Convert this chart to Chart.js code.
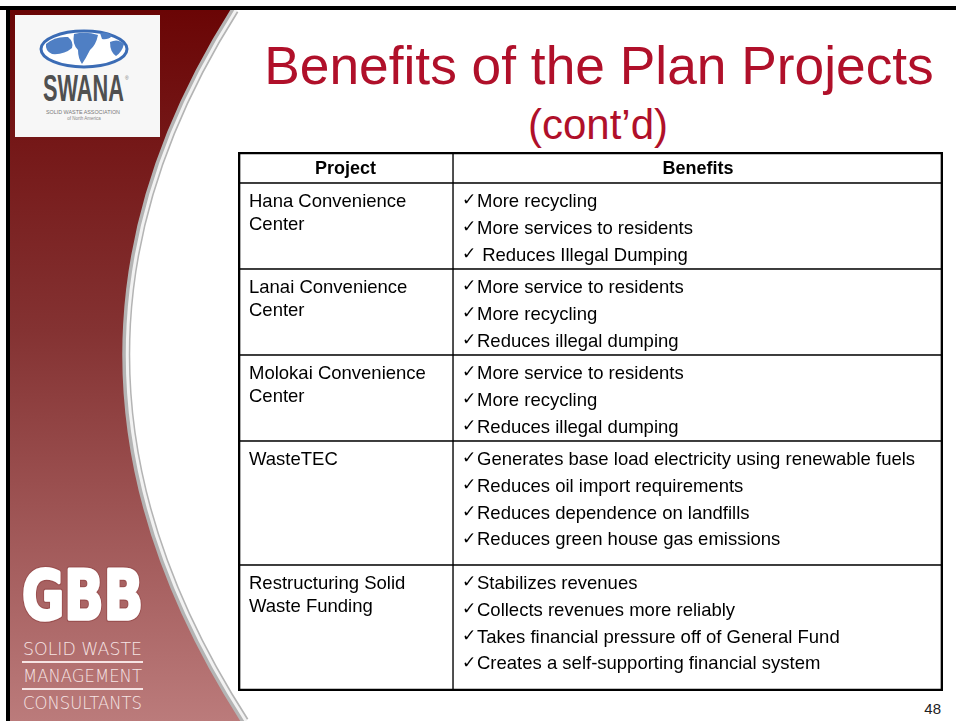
<!DOCTYPE html>
<html>
<head>
<meta charset="utf-8">
<script src="https://cdn.jsdelivr.net/npm/chart.js"></script>
<style>
  html, body { margin: 0; padding: 0; background: #fff; }
  #slide { position: relative; width: 956px; height: 721px; overflow: hidden; }
  #bg { position: absolute; left: 0; top: 0; }
  #tbl { position: absolute; left: 236px; top: 150px; }
</style>
</head>
<body>
<div id="slide">
<svg id="bg" width="956" height="721" xmlns="http://www.w3.org/2000/svg">
  <defs>
    <linearGradient id="maroon" x1="0" y1="0" x2="0" y2="1">
      <stop offset="0" stop-color="#6a0505"/>
      <stop offset="0.45" stop-color="#843232"/>
      <stop offset="1" stop-color="#bb7b7b"/>
    </linearGradient>
  </defs>
  <!-- left band with curved edge -->
  <path d="M 10 10 L 232 10 C 118 190 55 430 242 721 L 10 721 Z" fill="url(#maroon)"/>
  <path d="M 235 10 C 121 190 58 430 245 721" fill="none" stroke="#b4b4b4" stroke-width="8"/>
  <path d="M 236 10 C 122 190 59 430 246 721" fill="none" stroke="#f2f2f2" stroke-width="3"/>
  <!-- black frame top / left -->
  <rect x="0" y="6" width="956" height="4" fill="#000"/>
  <rect x="6" y="6" width="4" height="715" fill="#000"/>

  <!-- SWANA logo -->
  <rect x="15" y="15" width="145" height="122" fill="#f7f7f7"/>
  <ellipse cx="84" cy="49" rx="43" ry="18" fill="#ffffff" stroke="#3b6cb5" stroke-width="3"/>
  <path d="M 46 44 Q 55 36 68 37 Q 74 42 72 48 Q 64 55 52 54 Q 45 51 46 44 Z" fill="#4f7fc4"/>
  <path d="M 74 34 Q 86 31 98 35 Q 96 45 90 50 Q 86 58 82 64 Q 78 58 78 50 Q 72 44 74 34 Z" fill="#4f7fc4"/>
  <path d="M 100 33 Q 108 31 112 36 Q 108 40 102 39 Z" fill="#4f7fc4"/>
  <path d="M 110 42 Q 118 38 124 44 Q 122 52 116 56 Q 110 52 110 42 Z" fill="#4f7fc4"/>
  <text x="43" y="101" font-family="Liberation Sans Narrow, Liberation Sans, Arial" font-weight="bold" font-size="37" fill="#505050" textLength="81" lengthAdjust="spacingAndGlyphs">SWANA</text>
  <text x="125" y="80" font-family="Liberation Sans" font-size="5" fill="#777">®</text>
  <text x="83" y="114" text-anchor="middle" font-family="Liberation Sans" font-size="5.5" fill="#777" textLength="74" lengthAdjust="spacingAndGlyphs">SOLID WASTE ASSOCIATION</text>
  <text x="84" y="120" text-anchor="middle" font-family="Liberation Sans" font-size="4.5" fill="#888">of North America</text>

  <!-- GBB logo -->
  <text x="22" y="619" font-family="DejaVu Sans" font-weight="bold" font-size="68" fill="#9a5050" stroke="#9a5050" stroke-width="6" stroke-linejoin="round" textLength="121" lengthAdjust="spacingAndGlyphs">GBB</text>
  <text x="22" y="619" font-family="DejaVu Sans" font-weight="bold" font-size="68" fill="#ffffff" stroke="#ffffff" stroke-width="3.5" stroke-linejoin="round" textLength="121" lengthAdjust="spacingAndGlyphs">GBB</text>
  <text x="23" y="655" font-family="DejaVu Sans" font-weight="200" font-size="18" fill="#f6e4e4" textLength="119" lengthAdjust="spacingAndGlyphs">SOLID   WASTE</text>
  <rect x="22" y="661" width="121" height="2" fill="#f6e4e4"/>
  <text x="23" y="682" font-family="DejaVu Sans" font-weight="200" font-size="18" fill="#f6e4e4" textLength="119" lengthAdjust="spacingAndGlyphs">MANAGEMENT</text>
  <rect x="22" y="688" width="121" height="2" fill="#f6e4e4"/>
  <text x="23" y="709" font-family="DejaVu Sans" font-weight="200" font-size="18" fill="#f6e4e4" textLength="119" lengthAdjust="spacingAndGlyphs">CONSULTANTS</text>

  <!-- title -->
  <text x="599" y="84" text-anchor="middle" font-family="Liberation Sans, Arial" font-size="53.3" fill="#b0102a">Benefits of the Plan Projects</text>
  <text x="598" y="139" text-anchor="middle" font-family="Liberation Sans, Arial" font-size="42" fill="#b0102a">(cont’d)</text>
  <!-- page number -->
  <text x="941" y="714" text-anchor="end" font-family="Liberation Sans, Arial" font-size="15" fill="#222">48</text>
</svg>
<canvas id="tbl" width="709" height="543"></canvas>
</div>

<script>
// table content
let headers = ['Project', 'Benefits'];
let projects = [
  ['Hana Convenience', 'Center'],
  ['Lanai Convenience', 'Center'],
  ['Molokai Convenience', 'Center'],
  ['WasteTEC'],
  ['Restructuring Solid', 'Waste Funding']
];
let benefits = [
  ['✓More recycling', '✓More services to residents', '✓ Reduces Illegal Dumping'],
  ['✓More service to residents', '✓More recycling', '✓Reduces illegal dumping'],
  ['✓More service to residents', '✓More recycling', '✓Reduces illegal dumping'],
  ['✓Generates base load electricity using renewable fuels', '✓Reduces oil import requirements',
   '✓Reduces dependence on landfills', '✓Reduces green house gas emissions'],
  ['✓Stabilizes revenues', '✓Collects revenues more reliably',
   '✓Takes financial pressure off of General Fund', '✓Creates a self-supporting financial system']
];

// layout of the table (px), header row first
let colWidths = [215, 490];
let rowHeights = [31, 86, 86, 86, 124, 126];

let tableWidth = colWidths[0] + colWidths[1];
let tableHeight = rowHeights.reduce((a, b) => a + b, 0);

// row edges -> floating bar ranges
let rowRanges = [];
let acc = 0;
for (let h of rowHeights) {
  rowRanges.push([acc, acc + h]);
  acc += h;
}
let colCenters = [colWidths[0] / 2, colWidths[0] + colWidths[1] / 2];

let textFont = '"Liberation Sans", Arial, sans-serif';

// draws the text of every cell on top of the bars
const tableText = {
  id: 'tableText',
  afterDatasetsDraw(chart) {
    let ctx = chart.ctx;
    let projCells = chart.getDatasetMeta(0).data;
    let benCells = chart.getDatasetMeta(1).data;
    ctx.save();
    ctx.fillStyle = '#000';
    ctx.textBaseline = 'middle';
    for (let i = 0; i < projCells.length; i++) {
      let p = projCells[i].getProps(['x', 'y', 'base', 'width'], true);
      let b = benCells[i].getProps(['x', 'y', 'base', 'width'], true);
      let top = Math.min(p.y, p.base);
      if (i === 0) {
        ctx.font = 'bold 18px ' + textFont;
        ctx.textAlign = 'center';
        ctx.fillText(headers[0], p.x, top + 17);
        ctx.fillText(headers[1], b.x, top + 17);
        continue;
      }
      ctx.textAlign = 'left';
      ctx.font = '18.5px ' + textFont;
      let pl = p.x - p.width / 2;
      projects[i - 1].forEach((line, k) => {
        ctx.fillText(line, pl + 11, top + 19 + k * 22.5);
      });
      let bl = b.x - b.width / 2;
      let step = benefits[i - 1].length > 3 ? 26.8 : 27;
      benefits[i - 1].forEach((line, k) => {
        let y = top + 19 + k * step;
        let txt = line;
        if (txt.startsWith('✓')) {
          ctx.font = '17px "DejaVu Sans"';
          ctx.fillText('✓', bl + 9, y - 1);
          txt = txt.slice(1);
        }
        ctx.font = '18.5px ' + textFont;
        ctx.fillText(txt, bl + 24, y);
      });
    }
    ctx.restore();
  }
};

let ctx = document.getElementById('tbl').getContext('2d');
let mychart = new Chart(ctx, {
  type: 'bar',
  data: {
    datasets: [
      {
        label: headers[0],
        data: rowRanges.map(r => ({ x: colCenters[0], y: r })),
        barThickness: colWidths[0],
        stack: 'table',
        backgroundColor: '#ffffff',
        borderColor: '#000000',
        borderWidth: 1,
        borderSkipped: false
      },
      {
        label: headers[1],
        data: rowRanges.map(r => ({ x: colCenters[1], y: r })),
        barThickness: colWidths[1],
        stack: 'table',
        backgroundColor: '#ffffff',
        borderColor: '#000000',
        borderWidth: 1,
        borderSkipped: false
      },
      {
        // outer frame of the table, drawn on top of the cells
        label: 'frame',
        order: -1,
        data: [{ x: tableWidth / 2, y: [0, tableHeight] }],
        barThickness: tableWidth,
        stack: 'table',
        backgroundColor: 'rgba(0,0,0,0)',
        borderColor: '#000000',
        borderWidth: 2,
        borderSkipped: false
      }
    ]
  },
  options: {
    responsive: false,
    animation: false,
    devicePixelRatio: 1,
    layout: { padding: 2 },
    plugins: {
      legend: { display: false },
      tooltip: { enabled: false },
      title: { display: false }
    },
    scales: {
      x: { type: 'linear', min: 0, max: tableWidth, offset: false, display: false },
      y: { type: 'linear', min: 0, max: tableHeight, reverse: true, stacked: false, display: false }
    }
  },
  plugins: [tableText]
});
</script>
</body>
</html>
